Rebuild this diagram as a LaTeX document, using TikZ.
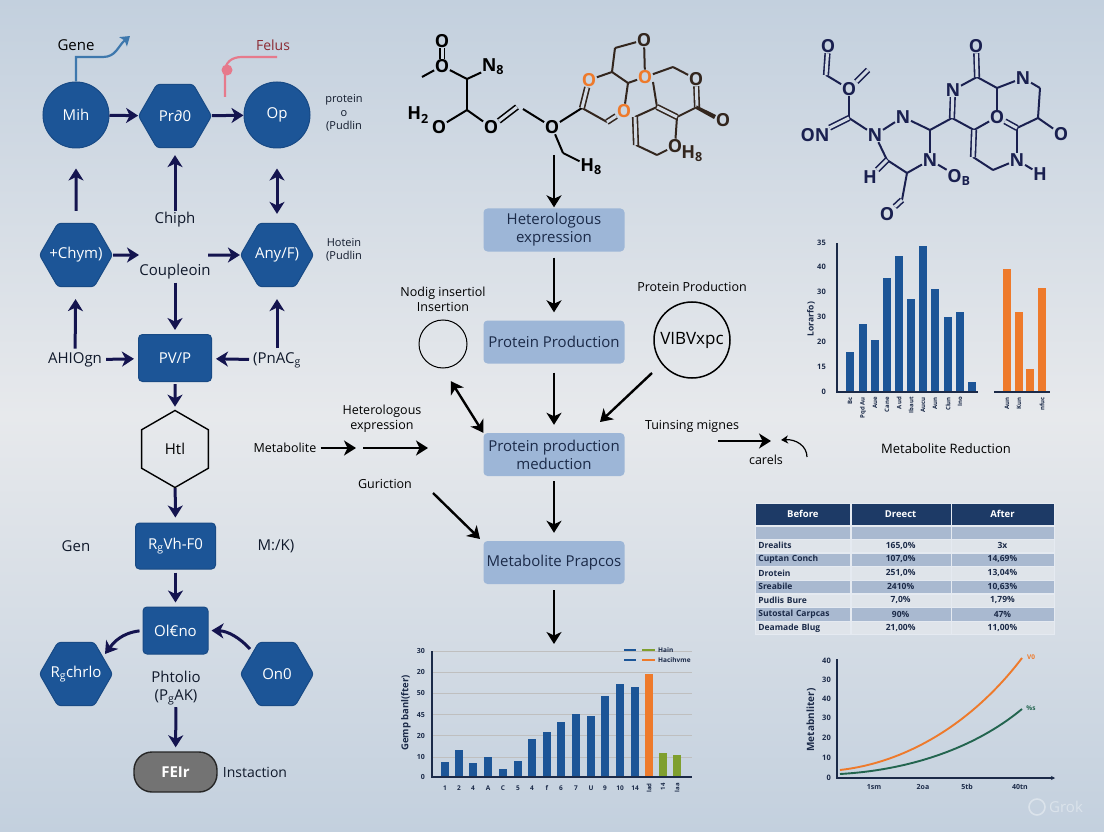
\documentclass[tikz,border=0pt]{standalone}
\usepackage{fontspec}
\setmainfont{Open Sans}
\usetikzlibrary{matrix,arrows.meta,shapes.geometric}
\definecolor{bgedge}{HTML}{C3D0DE}
\definecolor{bgmid}{HTML}{E7E9EC}
\definecolor{molbg}{HTML}{D2DAE4}
\definecolor{nodeblue}{HTML}{1C5597}
\definecolor{nodeedge}{HTML}{184A85}
\definecolor{arrownavy}{HTML}{14144F}
\definecolor{boxblue}{HTML}{9DB6D7}
\definecolor{inkblue}{HTML}{1B2A48}
\definecolor{barorange}{HTML}{EE7A2B}
\definecolor{bargreen}{HTML}{7F9F2E}
\definecolor{tablehead}{HTML}{1D3A66}
\definecolor{tablerow}{HTML}{A9B9D0}
\definecolor{tablelight}{HTML}{DFE4EA}
\definecolor{molbrown}{HTML}{33261E}
\definecolor{molnavy}{HTML}{1A2050}
\definecolor{genepath}{HTML}{3E78AD}
\definecolor{feluspath}{HTML}{E67A8C}
\definecolor{felustext}{HTML}{8B2A33}
\definecolor{curvegreen}{HTML}{23654F}
\newcommand{\pxfont}[1]{\fontsize{#1}{\the\dimexpr#1pt*6/5\relax}\selectfont}

\begin{document}
\begin{tikzpicture}[x=1pt, y=-1pt, >={Stealth[length=12pt,width=15pt,inset=3.5pt]},
	every node/.style={inner sep=0pt, align=center},
	lbl/.style={font=\pxfont{15}, text=inkblue!60!black},
	small lbl/.style={font=\pxfont{11}, text=inkblue!60!black},
	bluecircle/.style={circle, fill=nodeblue, draw=nodeedge, line width=1pt, minimum size=66pt, text=white, font=\pxfont{15}},
	bluehex/.style={regular polygon, regular polygon sides=6, fill=nodeblue, draw=nodeedge, line width=1pt, rounded corners=3pt, inner sep=-12pt, minimum size=73pt, text=white, font=\pxfont{15}},
	bluebox/.style={rectangle, fill=nodeblue, draw=nodeedge, line width=1pt, rounded corners=4pt, text=white, font=\pxfont{15}},
	flowbox/.style={rectangle, fill=boxblue, rounded corners=4pt, minimum width=141pt, minimum height=43pt, text=inkblue, font=\pxfont{15}},
	navyarrow/.style={->, arrownavy, line width=3pt},
	blackarrow/.style={->, black, line width=2.4pt},
	atom/.style={font=\bfseries\pxfont{18}, inner sep=.5pt, text=black},
	bond/.style={black, line width=2pt},
	dbond/.style={black, line width=1.6pt, double=molbg, double distance=3pt},
	tick lbl/.style={font=\bfseries\pxfont{7.5}, text=inkblue, anchor=east},
	bar lbl/.style={font=\bfseries\pxfont{6}, text=inkblue, rotate=90, anchor=east},
	axisline/.style={inkblue, line width=1.3pt}]

	\shade[top color=bgedge, bottom color=bgedge, middle color=bgmid] (0,0) rectangle (1104,832);

	\node[bluecircle] (mih) at (76,115) {Mih};
	\node[bluehex] (prd) at (175,116) {Pr∂0};
	\node[bluecircle] (op) at (277,115) {Op};
	\node[bluehex] (chym) at (76,255) {+Chym)};
	\node[bluehex] (anyf) at (277,255) {Any/F)};
	\node[bluebox, minimum width=73pt, minimum height=47pt] (pvp) at (175,358) {PV/P};
	\node[regular polygon, regular polygon sides=6, regular polygon rotate=30, draw=black, line width=1.4pt, minimum size=77pt, font=\pxfont{15}] (htl) at (175,449) {Htl};
	\node[bluebox, minimum width=80pt, minimum height=46pt] (rgv) at (175.5,546) {R\textsubscript{g}Vh-F0};
	\node[bluebox, minimum width=65pt, minimum height=47pt] (olen) at (175.5,630.5) {Ol€no};
	\node[bluehex] (rgch) at (76,674) {R\textsubscript{g}chrlo};
	\node[bluehex] (ono) at (277,674) {On0};
	\node[rectangle, fill=black!55, draw=black!85, line width=1.4pt, rounded corners=18pt, minimum width=83pt, minimum height=40pt, text=white, font=\bfseries\pxfont{15}] (feir) at (175.5,772) {FEIr};

	\node[font=\pxfont{15}] (gene) at (76,45) {Gene};
	\node[font=\pxfont{14}, text=felustext] (felus) at (273,45) {Felus};
	\node[lbl] (chiph) at (175,220) {Chiph};
	\node[lbl] (couple) at (175,272) {Coupleoin};
	\node[lbl, anchor=center] (ahi) at (75,360) {AHIOgn};
	\node[lbl] (pnac) at (277,360) {(PnAC\textsubscript{g}};
	\node[small lbl] (prot1) at (344,113) {protein\\o\\(Pudlin};
	\node[small lbl] (prot2) at (344,250) {Hotein\\(Pudlin};
	\node[lbl] (gen) at (76,546) {Gen};
	\node[lbl] (mk) at (276,546) {M:/K)};
	\node[lbl] (phto) at (176,688) {Phtolio\\(P\textsubscript{g}AK)};
	\node[lbl, font=\pxfont{14}] (inst) at (255,772) {Instaction};

	\coordinate (couplein) at (139,255);
	\coordinate (coupleout) at (208,255);
	\coordinate (onostart) at (250,649);
	\coordinate (rgchtip) at (105,654);

	\draw[navyarrow] (mih) -- (prd);
	\draw[navyarrow] (prd) -- (op);
	\draw[navyarrow, shorten <=12pt, shorten >=20pt] (chym) -- (mih);
	\draw[navyarrow, shorten <=1pt, shorten >=7pt] (chiph) -- (prd);
	\draw[navyarrow, <->, shorten <=20pt, shorten >=9pt] (op) -- (anyf);
	\draw[navyarrow] (chym) -- (couplein);
	\draw[navyarrow] (coupleout) -- (anyf);
	\draw[navyarrow, shorten <=3pt, shorten >=4pt] (couple) -- (pvp);
	\draw[navyarrow, shorten <=4pt, shorten >=12pt] (ahi) -- (chym);
	\draw[navyarrow, shorten <=4pt, shorten >=4pt] (ahi) -- (pvp);
	\draw[navyarrow, shorten <=4pt, shorten >=4pt] (pnac) -- (pvp);
	\draw[navyarrow, shorten <=4pt, shorten >=12pt] (pnac) -- (anyf);
	\draw[navyarrow, shorten <=2pt, shorten >=3pt] (pvp) -- (htl);
	\draw[navyarrow, shorten >=5pt] (htl) -- (rgv);
	\draw[navyarrow, shorten <=3pt, shorten >=4pt] (rgv) -- (olen);
	\draw[navyarrow, shorten <=3pt] (olen.west) .. controls (122,633) and (114,642) .. (rgchtip);
	\draw[navyarrow, shorten >=3pt] (onostart) .. controls (240,638) and (228,631) .. (olen.east);
	\draw[navyarrow, shorten <=2pt, shorten >=4pt] (phto) -- (feir);

	\draw[genepath, line width=2.2pt, -{Stealth[length=9pt,width=12pt,inset=2pt]}] (mih.north) -- (76,57) -- (103,57) .. controls (116,57) and (118,46) .. (130,36);
	\draw[feluspath, line width=2.2pt] (225,97) -- (225,72) .. controls (225,62) and (232,57) .. (242,57) -- (277,57);
	\fill[feluspath] (227,70) circle (5.5);

	\node[flowbox] (hetero) at (554,230) {Heterologous\\expression};
	\node[flowbox] (protprod) at (554,342) {Protein Production};
	\node[flowbox] (prodmed) at (554,454.5) {Protein production\\meduction};
	\node[flowbox] (metab) at (554,562.5) {Metabolite Prapcos};
	\node[circle, draw=black, line width=1pt, minimum size=48pt] (nodig) at (443,344) {};
	\node[circle, draw=black, line width=1.5pt, minimum size=76pt, font=\pxfont{17}] (vib) at (692,340) {VIBVxpc};
	\node[font=\pxfont{12.5}] (nodiglbl) at (443,299.5) {Nodig insertiol\\Insertion};
	\node[font=\pxfont{12.5}] (protlbl) at (692,287) {Protein Production};
	\node[font=\pxfont{12.5}] (hetlbl) at (382,419) {Heterologous\\expression};
	\node[font=\pxfont{12.5}] (metalbl) at (285,448) {Metabolite};
	\node[font=\pxfont{12.5}] (gurlbl) at (385,484) {Guriction};
	\node[font=\pxfont{12.5}] (turnlbl) at (692,426) {Tuinsing mignes};
	\node[font=\pxfont{12.5}] (carels) at (766,460) {carels};

	\coordinate (molend) at (554,155);
	\coordinate (chartend) at (554,644);
	\coordinate (metamid) at (363,448);
	\coordinate (metatip) at (428,448);
	\coordinate (metatip1) at (356,448);
	\coordinate (vibstart) at (652,373);
	\coordinate (vibtip) at (600,422);
	\coordinate (gurstart) at (433,493);
	\coordinate (gurtip) at (480,539);
	\coordinate (turnstart) at (718,441);
	\coordinate (turntip) at (771,441);
	\coordinate (curlstart) at (807,457);
	\coordinate (curltip) at (781,440);

	\draw[blackarrow, shorten >=1pt] (molend) -- (hetero);
	\draw[blackarrow, shorten <=6pt, shorten >=8pt] (hetero) -- (protprod);
	\draw[blackarrow, shorten <=9pt, shorten >=8pt] (protprod) -- (prodmed);
	\draw[blackarrow, shorten <=5pt, shorten >=8pt] (prodmed) -- (metab);
	\draw[blackarrow, shorten <=6pt] (metab) -- (chartend);
	\draw[blackarrow, <->, shorten <=15pt] (nodig.south) -- (prodmed.north west);
	\draw[blackarrow] (vibstart) -- (vibtip);
	\draw[blackarrow, shorten <=4pt] (metalbl) -- (metatip1);
	\draw[blackarrow] (metamid) -- (metatip);
	\draw[blackarrow] (gurstart) -- (gurtip);
	\draw[blackarrow] (turnstart) -- (turntip);
	\draw[black, line width=1.2pt, -{Stealth[length=7pt,width=8pt,inset=2pt]}] (curlstart) .. controls (807,446) and (796,439) .. (curltip);

	\foreach \name/\x/\y/\txt in {o1/442/41/O, o2/442/66/O, o3/439/127/O, o4/491/127/O, o5/552/127/O, no8/493/67/N\textsubscript{8}, h2o/418/115/H\textsubscript{2}, hs/591/167/H\textsubscript{8}}
		\node[atom] (\name) at (\x,\y) {\txt};
	\foreach \name/\x/\y in {me/422/77, c1/467/79, c2/467/110, c3/517/107, c4/523/109, c5/563/153, c6/582/108}
		\coordinate (\name) at (\x,\y);
	\foreach \a/\b in {o2/me, o2/c1, c1/no8, c1/c2, c2/o3, c2/o4, c4/o5, o5/c6, o5/c5, c5/hs}
		\draw[bond] (\a) -- (\b);
	\draw[dbond] (o1) -- (o2);
	\draw[dbond] (o4) -- (c3);
	\foreach \name/\x/\y/\clr in {ro1/589/80/barorange, ro2/624/111/barorange, ro3/645/77/barorange, ro4/644/40/molbrown, ro5/696/79/molbrown, ro6/723/120/molbrown, ro7/675/146/molbrown}
		\node[atom, text=\clr] (\name) at (\x,\y) {O};
	\node[atom, text=molbrown] (rh) at (692,154) {H\textsubscript{8}};
	\foreach \name/\x/\y in {r1/612/72, r2/628/83, r3/615/48, r4/673/67, r5/697/107, r6/677/117, r7/657/107, r8/653/82, r9/635/117, r10/636/145, r11/657/155, r12/607/122}
		\coordinate (\name) at (\x,\y);
	\foreach \a/\b in {ro1/r1, r1/r2, r2/ro3, r2/ro2, r1/r3, r3/ro4, ro4/ro3, ro3/r4, r4/ro5, r6/r5, r7/r8, r6/ro7, r7/r9, r10/r11, r11/ro7, c6/r12}
		\draw[bond, molbrown] (\a) -- (\b);
	\foreach \a/\b in {c6/ro1, r12/ro2, ro5/r5, r6/r7, r9/r10}
		\draw[dbond, molbrown] (\a) -- (\b);
	\fill[molbrown] (696.5,105.5) -- (716,115) -- (714,119) -- (696,109) -- cycle;

	\foreach \name/\x/\y/\txt in {bo1/828/46/O, bo2/849/89/O, bon/815/135/ON, bn1/875/135/N, bn2/903/117/N, bn3/930/160/N, bh1/870/177/H, bo3/887/214/O, bo4/959/177/O\textsubscript{B}, bn4/953/90/N, bo5/976/46/O, bn5/1023/78/N, bo6/1061/134/O, bo7/997/117/O, bn6/1017/160/N, bh2/1040/174/H}
		\node[atom, text=molnavy] (\name) at (\x,\y) {\txt};
	\foreach \name/\x/\y in {b1/826/75, b2/868/70, b3/849/118, b4/930/130, b5/907/173, b6/887/160, b7/902/200, b8/952/118, b9/977/77, b10/997/88, b11/1040/88, b12/1038/118, b13/1017/128, b14/974/130, b15/973/157, b16/993/170}
		\coordinate (\name) at (\x,\y);
	\foreach \a/\b in {b1/bo2, bo2/b3, b3/bn1, bn1/bn2, bn2/b4, b4/bn3, bn3/b5, b5/b6, b6/bn1, b5/b7, bn3/bo4, b4/b8, bn4/b9, b9/b10, b10/bn5, bn5/b11, b11/b12, b12/bo6, b12/b13, b10/bo7, b8/b14, b14/bo7, b15/b16, b16/bn6, bn6/b13, bn6/bh2}
		\draw[bond, molnavy] (\a) -- (\b);
	\foreach \a/\b in {bo1/b1, bo2/b2, b3/bon, b6/bh1, b7/bo3, b8/bn4, b9/bo5, bo7/b13, b14/b15}
		\draw[dbond, molnavy] (\a) -- (\b);

	\foreach \x/\t in {850/352, 863/324, 875/340, 887/278, 899/256, 911/299, 923/246, 935/289, 948/317, 960/312, 972/382}
		\fill[nodeblue] (\x-4,392) rectangle (\x+4,\t);
	\foreach \x/\t in {1007/269, 1019/312, 1030/369, 1042/288}
		\fill[barorange] (\x-4,392) rectangle (\x+4,\t);
	\draw[axisline] (837,243) -- (837,392) -- (978,392);
	\draw[axisline] (994,392) -- (1050,392);
	\foreach \y/\v in {243/35, 267/40, 292/30, 317/30, 342/20, 367/15, 392/0}
		\node[tick lbl] at (826,\y) {\v};
	\foreach \x/\v in {850/Bc, 863/Pqd Au, 875/Aue, 887/Cane, 899/Aud, 911/Ibaut, 923/Aucu, 935/Aun, 948/Clun, 960/Ino, 1007/Aun, 1019/Kun, 1042/nfuc}
		\node[bar lbl] at (\x,397) {\v};
	\node[font=\bfseries\pxfont{8.5}, rotate=90, text=inkblue] (barylbl) at (811,319) {Lorarfo)};
	\node[font=\pxfont{13}] (reduct) at (946,449) {Metabolite Reduction};

	\matrix (tbl) [matrix of nodes, anchor=north west, nodes in empty cells, column sep=0pt, row sep=0pt,
		nodes={anchor=center, draw=white!70!tablerow, line width=.3pt, minimum height=13.4pt, font=\bfseries\pxfont{8.5}, text=inkblue, inner xsep=3pt},
		column 1/.style={nodes={text width=89pt, align=left}},
		column 2/.style={nodes={text width=94pt}},
		column 3/.style={nodes={text width=97pt}},
		row 1/.style={nodes={fill=tablehead, text=white, minimum height=22pt, font=\bfseries\pxfont{9.5}}},
		row 1 column 1/.style={nodes={align=center}},
		row 2/.style={nodes={fill=tablerow, minimum height=13pt}},
		row 3/.style={nodes={fill=tablelight}},
		row 4/.style={nodes={fill=tablerow}},
		row 5/.style={nodes={fill=tablelight}},
		row 6/.style={nodes={fill=tablerow}},
		row 7/.style={nodes={fill=tablelight}},
		row 8/.style={nodes={fill=tablerow}},
		row 9/.style={nodes={fill=tablelight}}] at (755,503) {
		Before & Dreect & After \\
		& & \\
		Drealits & 165,0\% & 3x \\
		Cuptan Conch & 107,0\% & 14,69\% \\
		Drotein & 251,0\% & 13,04\% \\
		Sreabile & 2410\% & 10,63\% \\
		Pudlis Bure & 7,0\% & 1,79\% \\
		Sutostal Carpcas & 90\% & 47\% \\
		Deamade Blug & 21,00\% & 11,00\% \\
	};

	\foreach \y in {651,672,693,714,735,757}
		\draw[black!25, line width=.8pt] (433,\y) -- (692,\y);
	\foreach \x/\t in {445/762, 459/750, 473/763, 488/757, 503/769, 518/761, 532/739, 547/732, 561/722, 576/714, 591/716, 605/696, 620/684, 635/687}
		\fill[nodeblue] (\x-4,777) rectangle (\x+4,\t);
	\fill[barorange] (645,777) rectangle (653,674);
	\fill[bargreen] (659,777) rectangle (667,753);
	\fill[bargreen] (673,777) rectangle (681,755);
	\draw[axisline] (432,651) -- (432,777) -- (692,777);
	\foreach \y/\v in {651/30, 672/20, 693/50, 715/45, 736/20, 757/10, 777/0}
		\node[tick lbl, font=\bfseries\pxfont{7}] at (425,\y) {\v};
	\foreach \x/\v in {445/1, 459/2, 473/4, 488/A, 503/C, 518/5, 532/4, 547/f, 561/6, 576/7, 591/U, 605/9, 620/10, 635/14}
		\node[font=\bfseries\pxfont{6.5}, text=inkblue] at (\x,788) {\v};
	\foreach \x/\v in {649/lad, 663/14, 677/laa}
		\node[bar lbl] at (\x,783) {\v};
	\node[font=\bfseries\pxfont{9.5}, rotate=90, text=inkblue] (barylbl2) at (406,713) {Gemp banl(fter)};
	\draw[nodeblue, line width=2pt] (624,650) -- (636,650);
	\draw[bargreen, line width=2pt] (642,650) -- (655,650);
	\draw[nodeblue, line width=2pt] (624,660) -- (636,660);
	\draw[barorange, line width=2pt] (642,660) -- (655,660);
	\node[font=\bfseries\pxfont{6.5}, text=inkblue, anchor=west] (leg1) at (658,650) {Hain};
	\node[font=\bfseries\pxfont{6.5}, text=inkblue, anchor=west] (leg2) at (658,660) {Hacihvme};

	\draw[axisline, -{Stealth[length=4pt,width=4pt]}] (837,659) -- (837,778) -- (1055,778);
	\foreach \y/\v in {661/40, 680/30, 699/40, 718/30, 738/20, 758/10, 778/0}
		\node[tick lbl] at (831,\y) {\v};
	\foreach \x/\v in {874/1sm, 923/2oa, 967/5tb, 1020/40tn}
		\node[font=\bfseries\pxfont{7}, text=inkblue] at (\x,787) {\v};
	\node[font=\bfseries\pxfont{10}, rotate=90, text=inkblue] (lineylbl) at (811,720) {Metabnliter)};
	\draw[barorange, line width=1.9pt] (840,770) .. controls (910,762) and (975,720) .. (1022,658);
	\draw[curvegreen, line width=1.9pt] (840,774) .. controls (910,770) and (975,748) .. (1022,709);
	\node[font=\bfseries\pxfont{6.5}, text=barorange] (v0) at (1031,657) {V0};
	\node[font=\bfseries\pxfont{6.5}, text=curvegreen] (ys) at (1031,708) {\%s};

	\draw[white!40!bgedge, line width=1.6pt] (1037,807) circle (8);
	\node[font=\pxfont{15}, text=white!40!bgedge, anchor=west] (grok) at (1049,807) {Grok};
\end{tikzpicture}
\end{document}
